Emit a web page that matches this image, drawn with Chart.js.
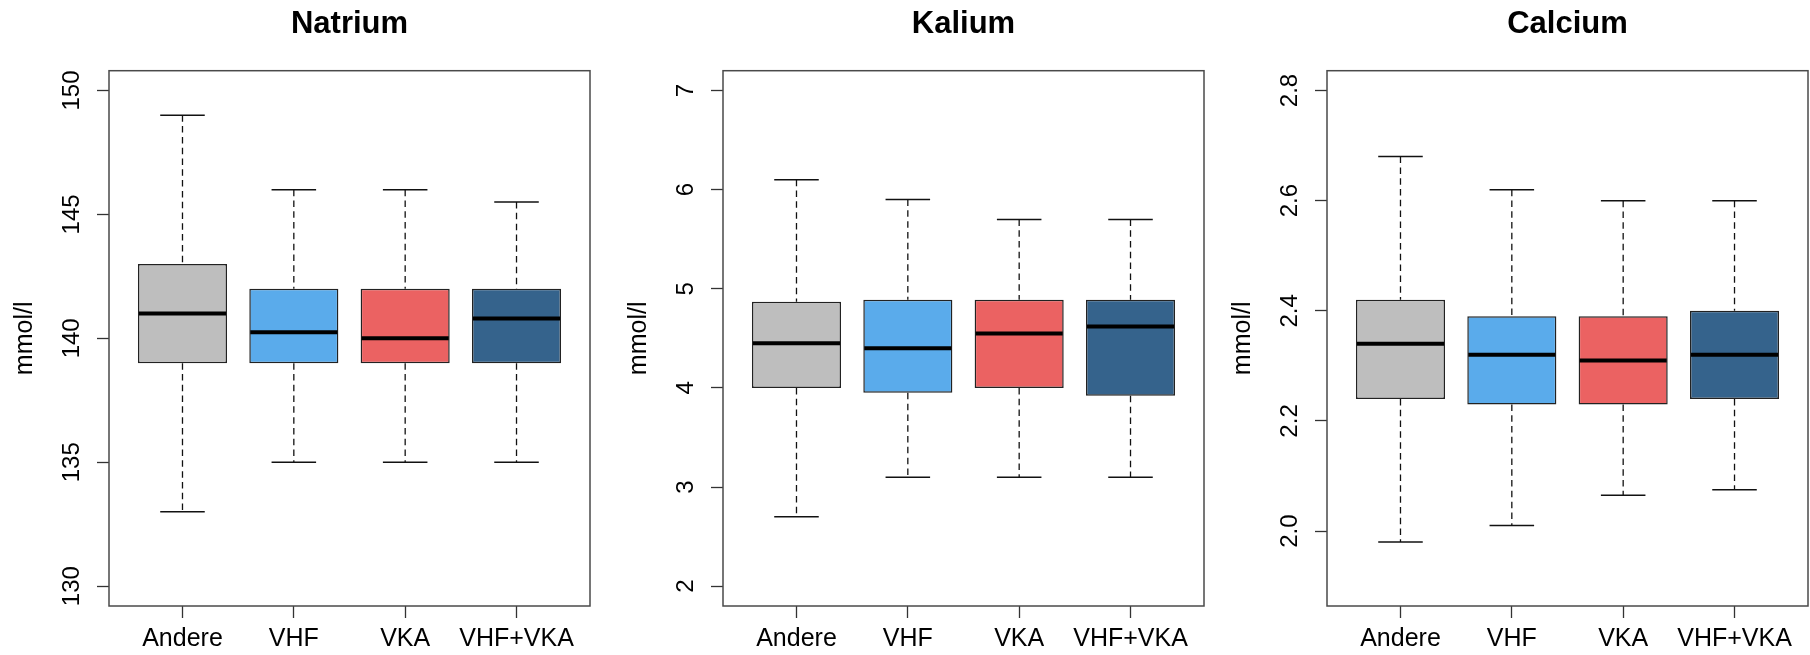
<!DOCTYPE html>
<html lang="de">
<head>
<meta charset="utf-8">
<title>Natrium, Kalium, Calcium</title>
<script src="https://cdn.jsdelivr.net/npm/chart.js@4.4.1/dist/chart.umd.min.js"></script>
<style>
    html, body { margin: 0; padding: 0; background: #fff; }
    body { width: 1810px; height: 655px; position: relative; overflow: hidden; }
    .panel { position: absolute; top: 0; width: 600px; height: 655px; }
</style>
</head>
<body>
<div class="panel" style="left:0px"><canvas id="natrium" width="600" height="655"></canvas></div>
<div class="panel" style="left:614px"><canvas id="kalium" width="600" height="655"></canvas></div>
<div class="panel" style="left:1218px"><canvas id="calcium" width="600" height="655"></canvas></div>
<script>
const gruppen = ['Andere', 'VHF', 'VKA', 'VHF+VKA'];
const farben = ['#bebebe', '#5aabeb', '#eb6262', '#35638c'];

// Natrium (mmol/l)
const natriumMin = [133, 135, 135, 135];
const natriumQ1 = [139, 139, 139, 139];
const natriumMedian = [141, 140.25, 140, 140.8];
const natriumQ3 = [143, 142, 142, 142];
const natriumMax = [149, 146, 146, 145.5];
const natriumGrenzen = [130, 150];
const natriumTicks = [130, 135, 140, 145, 150];
const natriumTickTexte = ['130', '135', '140', '145', '150'];

// Kalium (mmol/l)
const kaliumMin = [2.7, 3.1, 3.1, 3.1];
const kaliumQ1 = [4.0, 3.95, 4.0, 3.92];
const kaliumMedian = [4.45, 4.40, 4.55, 4.62];
const kaliumQ3 = [4.87, 4.89, 4.89, 4.89];
const kaliumMax = [6.1, 5.9, 5.7, 5.7];
const kaliumGrenzen = [2, 7];
const kaliumTicks = [2, 3, 4, 5, 6, 7];
const kaliumTickTexte = ['2', '3', '4', '5', '6', '7'];

// Calcium (mmol/l)
const calciumMin = [1.98, 2.01, 2.065, 2.075];
const calciumQ1 = [2.24, 2.23, 2.23, 2.24];
const calciumMedian = [2.34, 2.32, 2.31, 2.32];
const calciumQ3 = [2.42, 2.39, 2.39, 2.40];
const calciumMax = [2.68, 2.62, 2.60, 2.60];
const calciumGrenzen = [1.9, 2.8];
const calciumTicks = [2.0, 2.2, 2.4, 2.6, 2.8];
const calciumTickTexte = ['2.0', '2.2', '2.4', '2.6', '2.8'];

const SCHRIFT = "'Liberation Sans', Arial, sans-serif";
Chart.defaults.font.family = SCHRIFT;
Chart.defaults.color = '#000';

// Whisker (gestrichelt + Querstrich), Median und Rahmen
const boxplotPlugin = {
    id: 'boxplot',
    beforeDatasetsDraw(chart) {
        const { ctx, scales: { x, y } } = chart;
        const ds = chart.data.datasets[0];
        const linie = (x1, y1, x2, y2) => {
            ctx.beginPath();
            ctx.moveTo(x1, y1);
            ctx.lineTo(x2, y2);
            ctx.stroke();
        };
        ctx.save();
        ctx.strokeStyle = '#111';
        ctx.lineWidth = 1.3;
        ds.data.forEach((punkt, i) => {
            const [q1, q3] = punkt.y;
            const xc = x.getPixelForValue(punkt.x);
            const xl = x.getPixelForValue(punkt.x - 0.2);
            const xr = x.getPixelForValue(punkt.x + 0.2);
            const yMax = y.getPixelForValue(ds.whiskerMax[i]);
            const yMin = y.getPixelForValue(ds.whiskerMin[i]);
            ctx.setLineDash([6.5, 4.3]);
            linie(xc, yMax, xc, y.getPixelForValue(q3));
            linie(xc, y.getPixelForValue(q1), xc, yMin);
            ctx.setLineDash([]);
            ctx.lineWidth = 1.5;
            linie(xl, yMax, xr, yMax);
            linie(xl, yMin, xr, yMin);
            ctx.lineWidth = 1.3;
        });
        ctx.restore();
    },
    afterDatasetsDraw(chart) {
        const { ctx, chartArea, scales: { x, y } } = chart;
        const ds = chart.data.datasets[0];
        ctx.save();
        ctx.strokeStyle = '#000';
        ctx.lineWidth = 4;
        ds.data.forEach((punkt, i) => {
            const ym = y.getPixelForValue(ds.median[i]);
            ctx.beginPath();
            ctx.moveTo(x.getPixelForValue(punkt.x - 0.4) + 1, ym);
            ctx.lineTo(x.getPixelForValue(punkt.x + 0.4) - 1, ym);
            ctx.stroke();
        });
        ctx.strokeStyle = '#4a4a4a';
        ctx.lineWidth = 1.5;
        ctx.strokeRect(chartArea.left, chartArea.top, chartArea.width, chartArea.height);
        ctx.restore();
    }
};

// Abstand der gedrehten Tick-Beschriftung, damit ihre Mitte 37px links der Achse liegt
function tickAbstand(texte) {
    const ctx = document.createElement('canvas').getContext('2d');
    ctx.font = '24px ' + SCHRIFT;
    const breiteste = Math.max(...texte.map(t => ctx.measureText(t).width));
    return 25 - breiteste / 2;
}

function zeichneBoxplot(canvasId, titel, min, q1, median, q3, max, grenzen, ticks, tickTexte) {
    const spanne = grenzen[1] - grenzen[0];
    const ctx = document.getElementById(canvasId).getContext('2d');
    return new Chart(ctx, {
        type: 'bar',
        data: {
            datasets: [{
                data: gruppen.map((g, i) => ({ x: i + 1, y: [q1[i], q3[i]] })),
                whiskerMin: min,
                whiskerMax: max,
                median: median,
                backgroundColor: farben,
                borderColor: '#222',
                borderWidth: 1.5,
                borderSkipped: false,
                barPercentage: 1,
                categoryPercentage: 0.8
            }]
        },
        options: {
            responsive: false,
            animation: false,
            layout: { padding: { left: 0, right: 10, top: 0, bottom: 0 } },
            plugins: {
                legend: { display: false },
                tooltip: { enabled: false },
                title: {
                    display: true,
                    fullSize: false,
                    text: titel,
                    color: '#000',
                    font: { size: 31, weight: 'bold' },
                    padding: { top: 5.5, bottom: 28 }
                }
            },
            scales: {
                x: {
                    type: 'linear',
                    min: 0.5 - 0.04 * gruppen.length,
                    max: gruppen.length + 0.5 + 0.04 * gruppen.length,
                    offset: false,
                    afterBuildTicks: s => { s.ticks = gruppen.map((g, i) => ({ value: i + 1 })); },
                    afterFit: s => { s.height = 49; },
                    ticks: {
                        color: '#000',
                        font: { size: 25 },
                        padding: 6,
                        maxRotation: 0,
                        autoSkip: false,
                        callback: (v, i) => gruppen[i]
                    },
                    grid: { offset: false, drawOnChartArea: false, tickLength: 12, tickColor: '#333', tickWidth: 1.3 },
                    border: { display: false }
                },
                y: {
                    min: grenzen[0] - 0.04 * spanne,
                    max: grenzen[1] + 0.04 * spanne,
                    afterBuildTicks: s => { s.ticks = ticks.map(v => ({ value: v })); },
                    afterFit: s => { s.width = 109; },
                    ticks: {
                        color: '#000',
                        font: { size: 24 },
                        minRotation: 90,
                        maxRotation: 90,
                        crossAlign: 'center',
                        padding: tickAbstand(tickTexte),
                        autoSkip: false,
                        callback: (v, i) => tickTexte[i]
                    },
                    grid: { drawOnChartArea: false, tickLength: 12, tickColor: '#333', tickWidth: 1.3 },
                    border: { display: false },
                    title: {
                        display: true,
                        text: 'mmol/l',
                        color: '#000',
                        font: { size: 25 },
                        padding: { top: 10, bottom: 0 }
                    }
                }
            }
        },
        plugins: [boxplotPlugin]
    });
}

zeichneBoxplot('natrium', 'Natrium', natriumMin, natriumQ1, natriumMedian, natriumQ3, natriumMax,
    natriumGrenzen, natriumTicks, natriumTickTexte);
zeichneBoxplot('kalium', 'Kalium', kaliumMin, kaliumQ1, kaliumMedian, kaliumQ3, kaliumMax,
    kaliumGrenzen, kaliumTicks, kaliumTickTexte);
zeichneBoxplot('calcium', 'Calcium', calciumMin, calciumQ1, calciumMedian, calciumQ3, calciumMax,
    calciumGrenzen, calciumTicks, calciumTickTexte);
</script>
</body>
</html>
